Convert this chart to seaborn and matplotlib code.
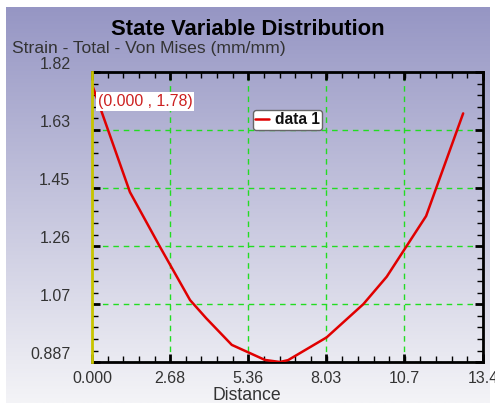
import numpy as np
import pandas as pd
import matplotlib
matplotlib.use("Agg")
import matplotlib.pyplot as plt
from matplotlib.ticker import AutoMinorLocator, FixedLocator
import seaborn as sns

# Sampled strain along the path
distance = [0.0, 0.30, 1.30, 2.33, 3.36, 3.91, 4.79, 5.93, 6.44, 6.72, 8.04, 9.30, 10.10, 11.45, 12.72]
strain = [1.78, 1.700, 1.434, 1.258, 1.087, 1.029, 0.943, 0.8945, 0.888, 0.894, 0.967, 1.074, 1.162, 1.357, 1.687]

x_ticks = [0.0, 2.68, 5.36, 8.03, 10.7, 13.4]
x_tick_labels = ["0.000", "2.68", "5.36", "8.03", "10.7", "13.4"]
y_min, y_max = 0.887, 1.82
y_tick_labels = ["0.887", "1.07", "1.26", "1.45", "1.63", "1.82"]

series_name = "data 1"
title = "State Variable Distribution"
quantity = "Strain - Total - Von Mises (mm/mm)"
x_name = "Distance"

sns.set_style("white")
plt.rcParams["font.family"] = ["Liberation Sans", "DejaVu Sans"]

W, H = 495, 405
fig = plt.figure(figsize=(W / 100, H / 100), dpi=100)
fig.patch.set_facecolor("white")

# Vertical lavender-to-white backdrop
bg = fig.add_axes([6 / W, 2 / H, (490 - 6) / W, (403 - 7) / H], zorder=-10)
top_c = np.array([150, 150, 196]) / 255
bot_c = np.array([244, 244, 247]) / 255
t = np.linspace(0, 1, 256)[:, None]
grad = (top_c[None, :] * (1 - t) + bot_c[None, :] * t)[:, None, :]
bg.imshow(grad, aspect="auto", extent=[0, 1, 0, 1])
bg.set_axis_off()

ax = fig.add_axes([92 / W, 1 - 362.3 / H, (483 - 92) / W, (362.3 - 72) / H])
ax.set_facecolor("none")

df = pd.DataFrame({"Distance": distance, "Strain": strain, "series": series_name})
sns.lineplot(data=df, x="Distance", y="Strain", hue="series", palette=["#e00000"],
             sort=False, estimator=None, linewidth=1.8, ax=ax, zorder=3)

ax.set_xlim(x_ticks[0], x_ticks[-1])
ax.set_ylim(y_min, y_max)
ax.set_xticks(x_ticks)
ax.set_xticklabels(x_tick_labels)
y_ticks = np.linspace(y_min, y_max, len(y_tick_labels))
ax.set_yticks(y_ticks)
ax.set_yticklabels(y_tick_labels, va="bottom")
ax.xaxis.set_minor_locator(AutoMinorLocator(5))
ax.yaxis.set_minor_locator(AutoMinorLocator(5))
ax.set_xlabel("")
ax.set_ylabel("")

ax.tick_params(which="both", direction="in", top=True, right=True, left=True, bottom=True,
               colors="black", labelcolor="#333333", labelsize=11.5)
ax.tick_params(which="major", length=6, width=2)
ax.tick_params(which="minor", length=4, width=1)
ax.tick_params(axis="y", which="major", pad=15.5)
ax.tick_params(axis="x", which="major", pad=6.5)
ax.tick_params(top=True, right=True, labeltop=False, labelright=False)

ax.grid(True, which="major", color="#22dd22", linestyle=(0, (4, 3.5)), linewidth=1)
for side in ["top", "right", "bottom"]:
    ax.spines[side].set_color("black")
    ax.spines[side].set_linewidth(2)
ax.spines["left"].set_color("#c8c400")
ax.spines["left"].set_linewidth(2)
ax.spines["left"].set_zorder(4)

# Value readout at the first point
ax.annotate(f"({distance[0]:.3f} , {strain[0]:.2f})", xy=(distance[0], strain[0]),
            xytext=(4, -12), textcoords="offset points", ha="left", va="center",
            color="#cc2020", fontsize=11.4,
            bbox=dict(boxstyle="square,pad=0.12", fc="white", ec="none"), zorder=5)

leg = ax.legend(loc="upper left", bbox_to_anchor=(0.412, 0.869), frameon=True,
                fancybox=True, framealpha=1, facecolor="white", edgecolor="#666666",
                prop={"weight": "bold", "size": 11.2}, handlelength=0.9,
                handletextpad=0.35, borderpad=0.15, borderaxespad=0)
leg.get_frame().set_linewidth(1)
for txt in leg.get_texts():
    txt.set_color("#111111")

fig.text(247.5 / W, 1 - 35 / H, title, ha="center", va="baseline",
         fontsize=15.8, fontweight="bold", color="black")
fig.text(12 / W, 1 - 53 / H, quantity, ha="left", va="baseline",
         fontsize=12.6, color="#333333")
fig.text(247 / W, 1 - 400 / H, x_name, ha="center", va="baseline",
         fontsize=12.7, color="#333333")

fig.savefig("out.png", dpi=100, facecolor=fig.get_facecolor())
